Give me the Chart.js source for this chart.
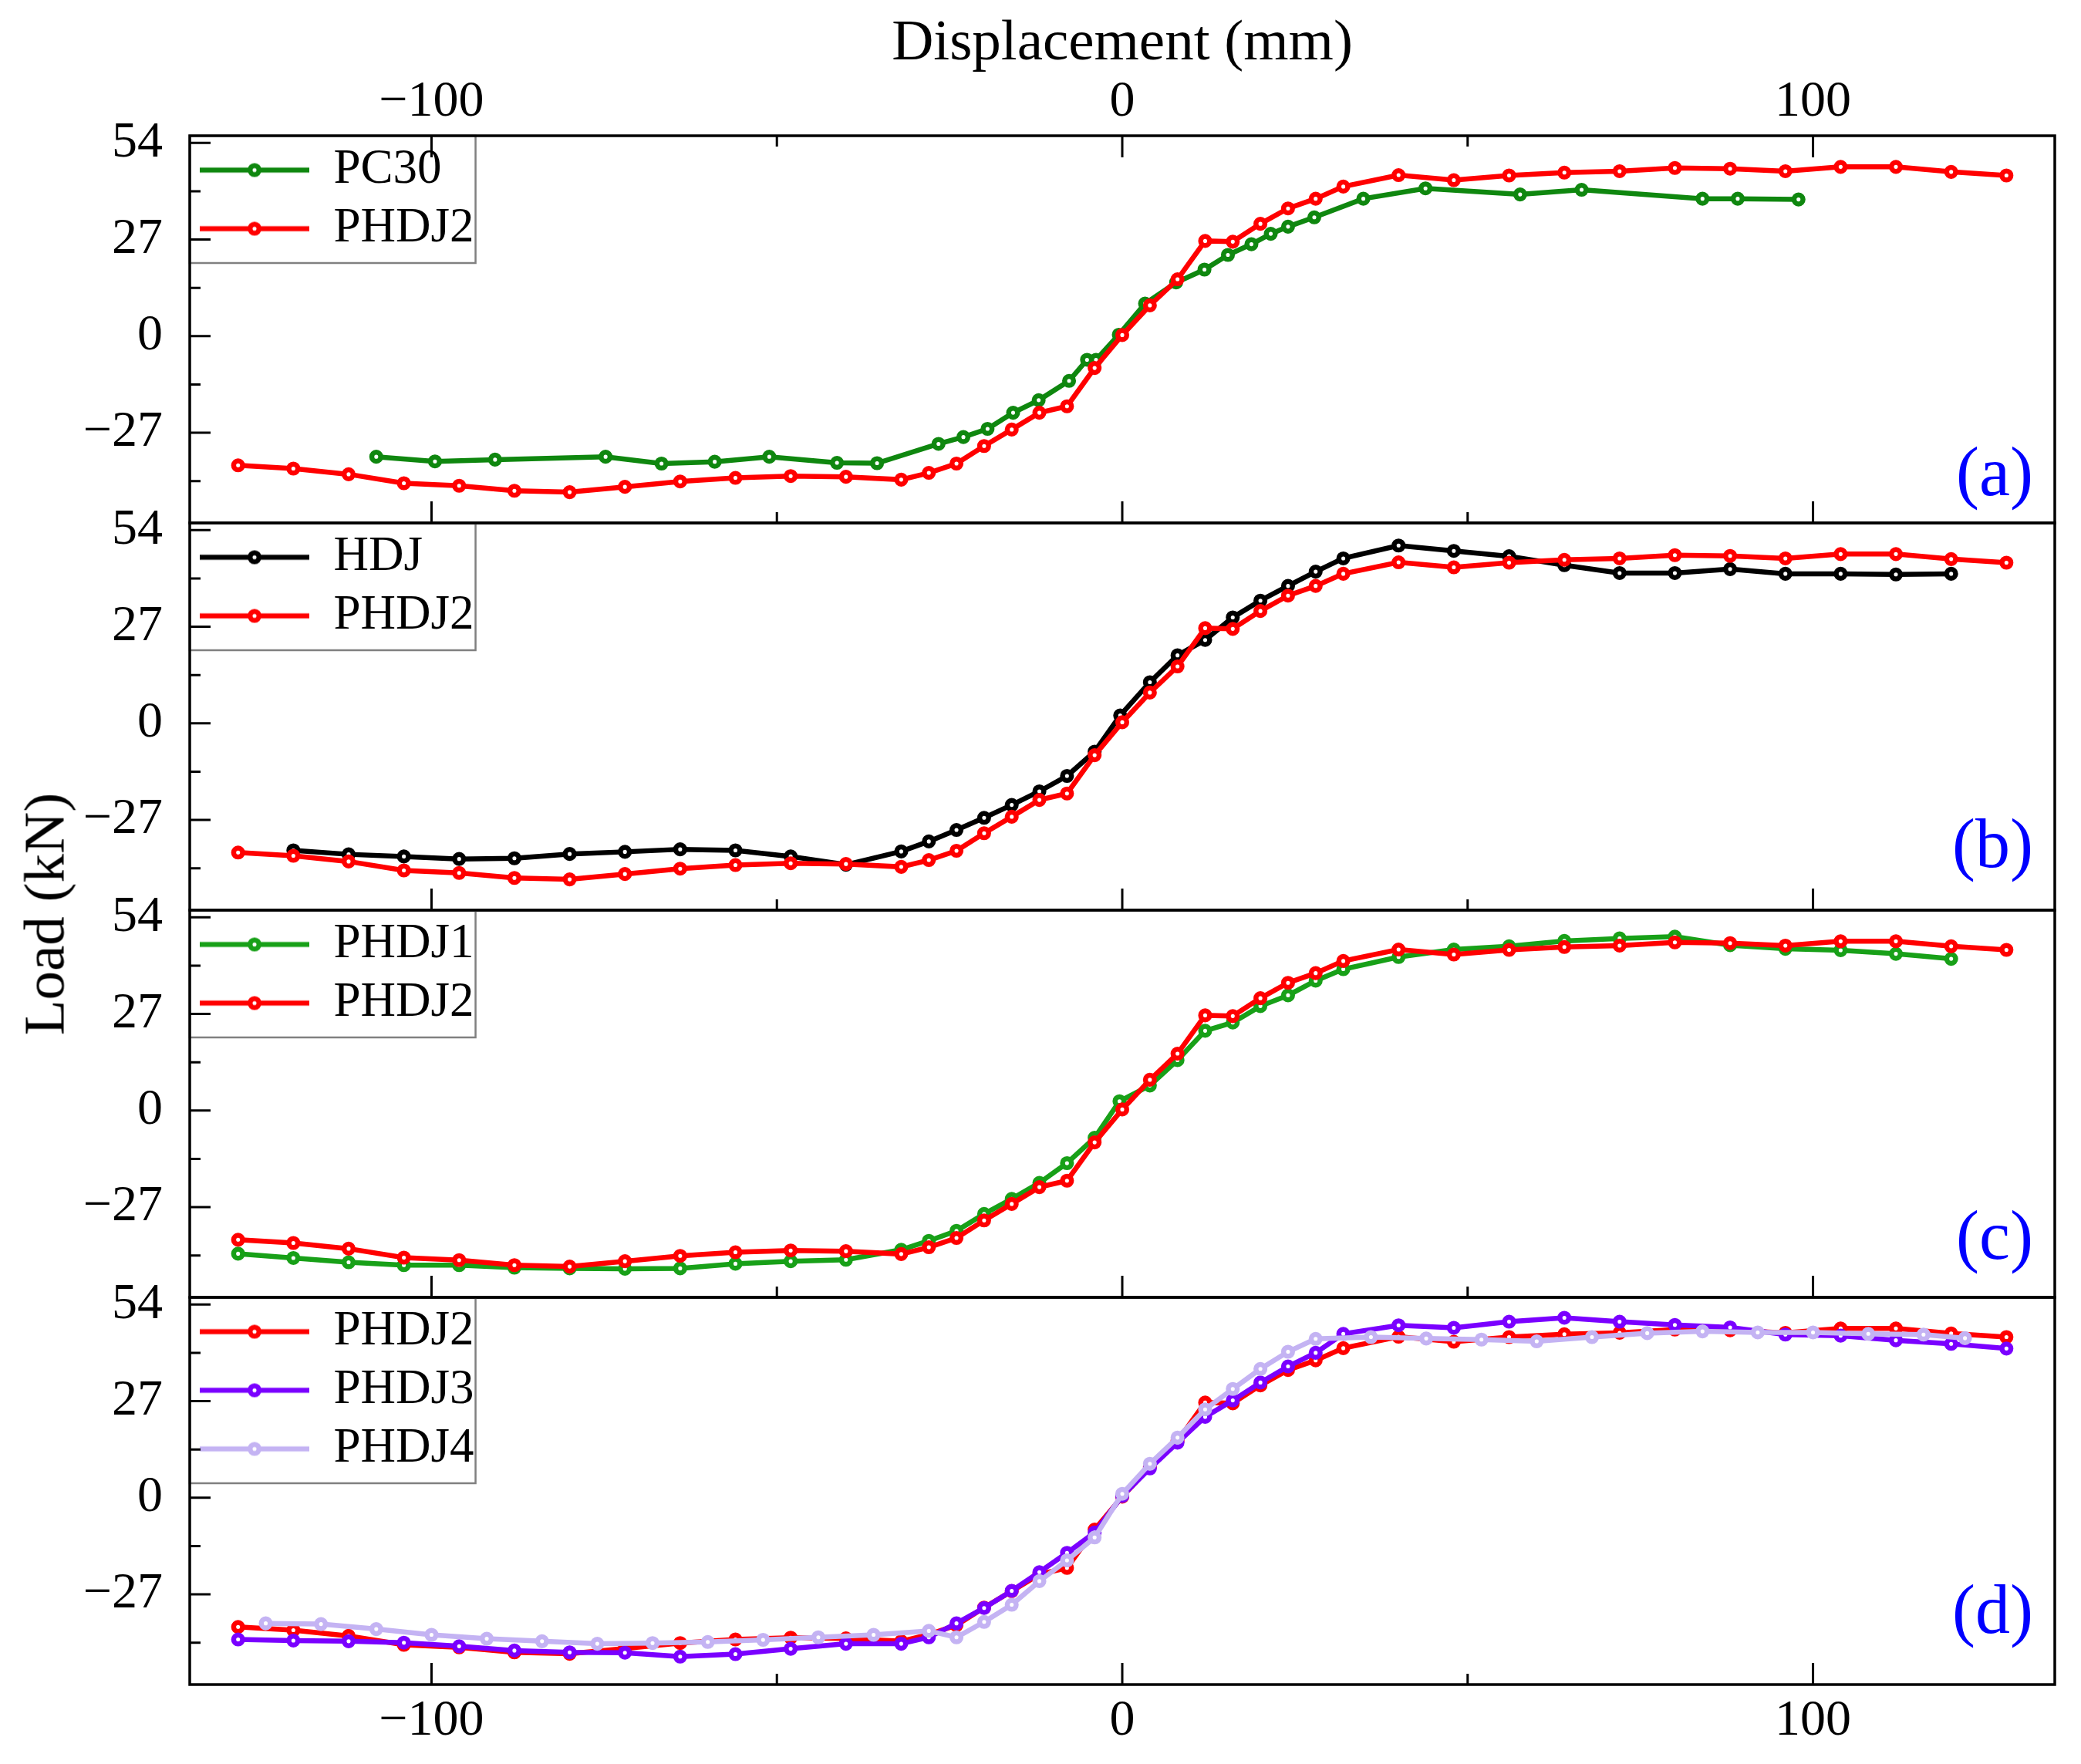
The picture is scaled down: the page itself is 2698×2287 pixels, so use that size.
<!DOCTYPE html>
<html>
<head>
<meta charset="utf-8">
<script src="https://cdn.jsdelivr.net/npm/chart.js@4.4.1/dist/chart.umd.min.js"></script>
<style>
html,body{margin:0;padding:0;background:#fff;}
#wrap{position:relative;width:2698px;height:2287px;overflow:hidden;background:#fff;}
#wrap canvas{position:absolute;left:0;top:0;}
#ytitle{position:absolute;left:57px;top:1185px;transform:translate(-50%,-50%) rotate(-90deg);
  font-family:"Liberation Serif","Times New Roman",serif;font-size:75px;white-space:nowrap;color:#000;line-height:1;}
</style>
</head>
<body>
<div id="wrap">
  <canvas id="ca" width="2698" height="2287"></canvas>
  <canvas id="cb" width="2698" height="2287"></canvas>
  <canvas id="cc" width="2698" height="2287"></canvas>
  <canvas id="cd" width="2698" height="2287"></canvas>
  <div id="ytitle">Load (kN)</div>
</div>
<script>
// ---------------- data (displacement in mm, load in kN) ----------------
const dispPHDJ2 = [-128,-120,-112,-104,-96,-88,-80,-72,-64,-56,-48,-40,-32,-28,-24,-20,-16,-12,-8,-4,0,4,8,12,16,20,24,28,32,40,48,56,64,72,80,88,96,104,112,120,128];
const loadPHDJ2 = [-36.1,-37.0,-38.6,-41.1,-41.8,-43.2,-43.6,-42.1,-40.6,-39.6,-39.1,-39.3,-40.1,-38.2,-35.6,-30.7,-26.1,-21.4,-19.6,-8.9,0.3,8.6,15.9,26.6,26.4,31.4,35.7,38.4,41.8,45.0,43.6,44.9,45.7,46.1,47.0,46.8,46.1,47.3,47.3,45.9,44.9];

const dispPC30 = [-108,-99.5,-90.8,-74.8,-66.7,-59,-51.1,-41.3,-35.5,-26.6,-23,-19.5,-15.8,-12.1,-7.7,-5.1,-3.8,-0.5,3.3,7.8,11.9,15.3,18.7,21.5,24,27.8,34.9,43.9,57.6,66.5,84,89.1,97.9];
const loadPC30 = [-33.7,-35.0,-34.5,-33.7,-35.6,-35.1,-33.7,-35.4,-35.5,-30.1,-28.2,-25.9,-21.4,-17.9,-12.5,-6.6,-6.6,0.4,9.1,15.0,18.6,22.7,25.7,28.6,30.6,33.2,38.4,41.3,39.6,40.9,38.4,38.4,38.2];

const dispHDJ = [-120,-112,-104,-96,-88,-80,-72,-64,-56,-48,-40,-32,-28,-24,-20,-16,-12,-8,-4,-0.3,4,8,12,16,20,24,28,32,40,48,56,64,72,80,88,96,104,112,120];
const loadHDJ = [-35.5,-36.6,-37.2,-37.9,-37.7,-36.5,-35.9,-35.2,-35.5,-37.2,-39.5,-35.8,-33.0,-29.8,-26.4,-22.8,-19.0,-14.7,-7.9,2.2,11.5,19.0,23.3,29.6,34.3,38.4,42.4,46.1,49.7,48.2,46.7,44.2,42.0,42.0,43.1,41.8,41.8,41.6,41.8];

const dispPHDJ1 = [-128,-120,-112,-104,-96,-88,-80,-72,-64,-56,-48,-40,-32,-28,-24,-20,-16,-12,-8,-4,-0.4,4,8,12,16,20,24,28,32,40,48,56,64,72,80,88,96,104,112,120];
const loadPHDJ1 = [-40.0,-41.2,-42.4,-43.2,-43.2,-43.9,-44.1,-44.2,-44.1,-42.8,-42.1,-41.7,-38.9,-36.4,-33.6,-28.9,-24.7,-20.2,-14.7,-7.6,2.6,7.0,14.1,22.3,24.6,29.2,32.2,36.3,39.5,42.9,45.0,45.9,47.4,48.1,48.6,46.2,45.2,44.8,43.8,42.4];

const dispPHDJ3 = [-128,-120,-112,-104,-96,-88,-80,-72,-64,-56,-48,-40,-32,-28,-24,-20,-16,-12,-8,-4,0,4,8,12,16,20,24,28,32,40,48,56,64,72,80,88,96,104,112,120,128];
const loadPHDJ3 = [-39.6,-39.9,-40.1,-40.5,-41.5,-42.7,-43.2,-43.3,-44.4,-43.7,-42.2,-40.8,-40.8,-39.0,-35.1,-30.8,-26.0,-20.8,-15.4,-9.7,0.5,8.2,15.4,22.6,27.2,32.2,36.7,40.5,45.8,48.2,47.5,49.2,50.3,49.2,48.3,47.6,45.6,45.3,44.0,43.0,41.7];

const dispPHDJ4 = [-124,-116,-108,-100,-92,-84,-76,-68,-60,-52,-44,-36,-28,-24,-20,-16,-12,-8,-4,0,4,8,12,16,20,24,28,36,44,52,60,68,76,84,92,100,108,116,122];
const loadPHDJ4 = [-35.1,-35.3,-36.7,-38.3,-39.4,-40.1,-40.8,-40.6,-40.3,-39.7,-39.0,-38.3,-37.2,-39.0,-34.7,-29.9,-23.3,-17.5,-11.1,1.1,9.5,16.8,24.7,30.4,36.0,40.8,44.4,44.9,44.5,44.2,43.7,44.9,46.0,46.5,46.2,46.2,45.8,45.6,44.6];

// tick labels
const xTickLabels = [-100, 0, 100];
const yTickLabels = [54, 27, 0, -27];
const panelLabels = ['(a)', '(b)', '(c)', '(d)'];

// ---------------- helpers ----------------
const FONT = '"Liberation Serif", "Times New Roman", serif';
Chart.defaults.font.family = FONT;
Chart.defaults.color = '#000';

const COLORS = {
  PC30: '#0f870f',
  PHDJ1: '#18a018',
  PHDJ2: '#ff0000',
  HDJ: '#000000',
  PHDJ3: '#7a00ff',
  PHDJ4: '#c4b3f3'
};

const LINE_W = 6.5, PT_R = 5.8, PT_BW = 6.5;

function pts(xs, ys) { return xs.map((x, i) => ({x: x, y: ys[i]})); }
function fmt(v) { return (v < 0 ? '\u2212' : '') + Math.abs(v); }
function inList(v, list) { return list.some(t => Math.abs(t - v) < 1e-6); }

function series(label, xs, ys, order) {
  const c = COLORS[label];
  return {
    label: label,
    data: pts(xs, ys),
    borderColor: c,
    backgroundColor: c,
    borderWidth: LINE_W,
    pointStyle: 'circle',
    pointRadius: PT_R,
    pointBorderWidth: PT_BW,
    pointBorderColor: c,
    pointBackgroundColor: '#ffffff',
    tension: 0,
    fill: false,
    order: order
  };
}

function makeSymbol(color) {
  const c = document.createElement('canvas');
  c.width = 142; c.height = 26;
  const g = c.getContext('2d');
  g.strokeStyle = color; g.lineWidth = LINE_W;
  g.beginPath(); g.moveTo(0, 13); g.lineTo(142, 13); g.stroke();
  g.beginPath(); g.arc(71, 13, PT_R, 0, Math.PI * 2);
  g.fillStyle = '#ffffff'; g.fill();
  g.lineWidth = PT_BW; g.stroke();
  return c;
}

const frameTicks = {
  id: 'frameTicks',
  afterLayout(chart) {
    const lg = chart.legend;
    if (lg) {
      const dy = chart.chartArea.top - lg.top;
      lg.top += dy; lg.bottom += dy;
    }
  },
  afterDraw(chart, args, opts) {
    const {ctx, chartArea: a} = chart;
    const xs = chart.scales.x, ys = chart.scales.y;
    ctx.save();
    // legend frame
    const lg = chart.legend;
    if (lg && lg.legendHitBoxes && lg.legendHitBoxes.length) {
      const hb = lg.legendHitBoxes;
      const right = Math.max.apply(null, hb.map(h => h.left + h.width)) + 2;
      const last = hb[hb.length - 1];
      const bottom = last.top + last.height + lg.options.labels.padding;
      ctx.strokeStyle = '#808080';
      ctx.lineWidth = 2.5;
      ctx.strokeRect(a.left, a.top, right - a.left, bottom - a.top);
    }
    // ticks (inward)
    ctx.strokeStyle = '#000';
    ctx.lineWidth = 3;
    ctx.beginPath();
    ys.ticks.forEach(t => {
      const py = ys.getPixelForValue(t.value);
      const len = inList(t.value, yTickLabels) ? 27 : 14;
      ctx.moveTo(a.left, py); ctx.lineTo(a.left + len, py);
    });
    xs.ticks.forEach(t => {
      const px = xs.getPixelForValue(t.value);
      const len = inList(t.value, xTickLabels) ? 28 : 14;
      ctx.moveTo(px, a.bottom); ctx.lineTo(px, a.bottom - len);
      if (opts.topTicks) { ctx.moveTo(px, a.top); ctx.lineTo(px, a.top + len); }
    });
    ctx.stroke();
    // frame
    ctx.lineWidth = 3.5;
    ctx.strokeRect(a.left, a.top, a.right - a.left, a.bottom - a.top);
    // panel label
    ctx.fillStyle = '#0000ff';
    ctx.font = '90px ' + FONT;
    ctx.textAlign = 'right';
    ctx.textBaseline = 'alphabetic';
    ctx.fillText(opts.label, a.right - 28, a.bottom - opts.rise);
    ctx.restore();
  }
};

const Y_W = 200;
const PANEL_TOP = 176, PANEL_H = 502, PAGE_H = 2287;

function makeChart(id, idx, datasets, cfg) {
  const top = PANEL_TOP + idx * PANEL_H;
  const bottom = top + PANEL_H;
  const isTop = idx === 0, isBottom = idx === 3;
  const padTop = isTop ? 0 : top;
  const padBottom = isBottom ? 0 : PAGE_H - bottom;
  const xHeight = isTop ? top : (isBottom ? PAGE_H - bottom : 0);
  return new Chart(document.getElementById(id), {
    type: 'line',
    data: {datasets: datasets},
    plugins: [frameTicks],
    options: {
      responsive: false,
      animation: false,
      events: [],
      layout: {padding: {left: 246 - Y_W, right: 34, top: padTop, bottom: padBottom}},
      plugins: {
        tooltip: {enabled: false},
        legend: {
          display: true,
          position: 'chartArea',
          align: 'start',
          labels: {
            usePointStyle: true,
            pointStyleWidth: 142,
            padding: 13,
            color: '#000',
            font: {size: 63, family: FONT},
            sort: (a, b) => a.datasetIndex - b.datasetIndex,
            generateLabels: function (chart) {
              const items = Chart.defaults.plugins.legend.labels.generateLabels(chart);
              items.forEach(it => {
                it.pointStyle = makeSymbol(chart.data.datasets[it.datasetIndex].borderColor);
              });
              return items;
            }
          }
        },
        frameTicks: {label: panelLabels[idx], rise: cfg.rise, topTicks: isTop}
      },
      scales: {
        x: {
          type: 'linear',
          position: isTop ? 'top' : 'bottom',
          min: -135, max: 135,
          grid: {display: false, drawTicks: false, tickLength: 0},
          border: {display: false},
          ticks: {
            display: isTop || isBottom,
            stepSize: 50, includeBounds: false, autoSkip: false, maxRotation: 0,
            padding: isTop ? 4 : 8,
            font: {size: 66},
            callback: v => inList(v, xTickLabels) ? fmt(v) : ''
          },
          title: isTop ? {display: true, text: 'Displacement (mm)', font: {size: 75}, padding: {top: 12, bottom: 0}} : {display: false},
          afterFit: s => { s.height = xHeight; }
        },
        y: {
          type: 'linear',
          position: 'left',
          min: -52.2, max: 56,
          grid: {display: false, drawTicks: false, tickLength: 0},
          border: {display: false},
          ticks: {
            stepSize: 13.5, includeBounds: false, autoSkip: false,
            padding: 35,
            font: {size: 66},
            callback: v => inList(v, yTickLabels) ? fmt(v) : ''
          },
          afterFit: s => { s.width = Y_W; }
        }
      }
    }
  });
}

makeChart('ca', 0, [
  series('PC30', dispPC30, loadPC30, 1),
  series('PHDJ2', dispPHDJ2, loadPHDJ2, 0)
], {rise: 36});

makeChart('cb', 1, [
  series('HDJ', dispHDJ, loadHDJ, 1),
  series('PHDJ2', dispPHDJ2, loadPHDJ2, 0)
], {rise: 56});

makeChart('cc', 2, [
  series('PHDJ1', dispPHDJ1, loadPHDJ1, 1),
  series('PHDJ2', dispPHDJ2, loadPHDJ2, 0)
], {rise: 50});

makeChart('cd', 3, [
  series('PHDJ2', dispPHDJ2, loadPHDJ2, 2),
  series('PHDJ3', dispPHDJ3, loadPHDJ3, 1),
  series('PHDJ4', dispPHDJ4, loadPHDJ4, 0)
], {rise: 67});
</script>
</body>
</html>
